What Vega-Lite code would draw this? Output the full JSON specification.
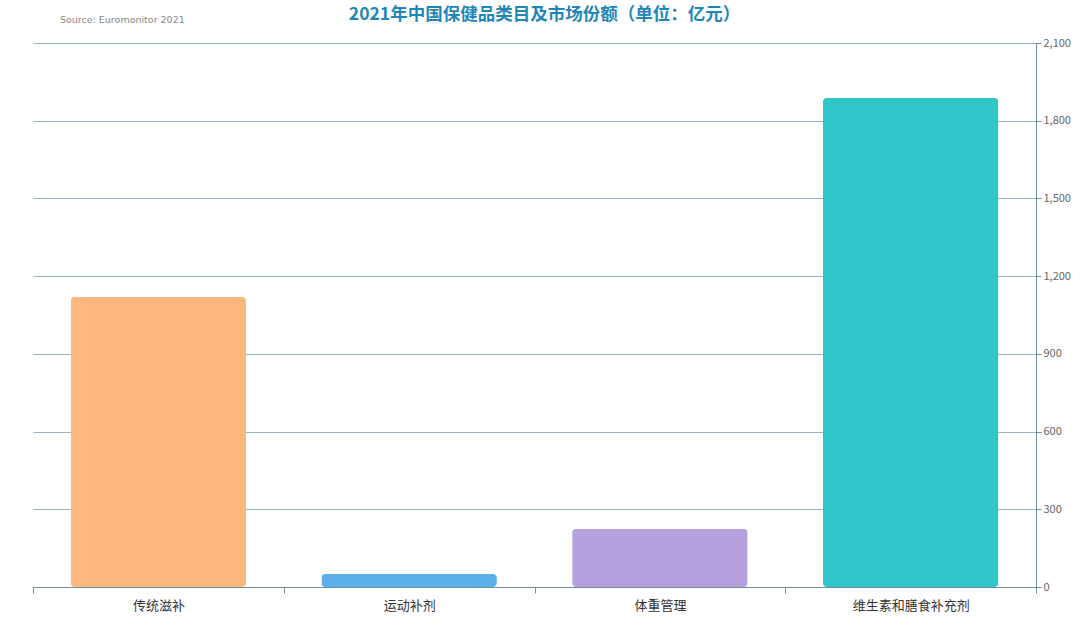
{
  "$schema": "https://vega.github.io/schema/vega-lite/v6.json",
  "autosize": "none",
  "width": 1003,
  "height": 544,
  "padding": {"left": 33, "top": 43, "right": 44, "bottom": 51},
  "background": "white",
  "title": {
    "text": "2021年中国保健品类目及市场份额（单位：亿元）",
    "color": "#1f86b8",
    "fontSize": 17.5,
    "fontWeight": "bold",
    "font": "Noto Sans CJK SC",
    "anchor": "middle",
    "frame": "group",
    "offset": 0,
    "dy": 8,
    "dx": 10
  },
  "config": {
    "view": {"stroke": null},
    "font": "Noto Sans CJK SC"
  },
  "layer": [
    {
      "data": {
        "values": [
          {"category": "传统滋补", "value": 1120},
          {"category": "运动补剂", "value": 50},
          {"category": "体重管理", "value": 225},
          {"category": "维生素和膳食补充剂", "value": 1888}
        ]
      },
      "mark": {"type": "bar", "cornerRadius": 4, "width": {"band": 0.7}},
      "encoding": {
        "x": {
          "field": "category",
          "type": "nominal",
          "sort": null,
          "scale": {"paddingInner": 0, "paddingOuter": 0},
          "axis": {
            "title": null,
            "labelAngle": 0,
            "labelFontSize": 13,
            "labelColor": "#333333",
            "labelPadding": 6,
            "domainColor": "#6e8f99",
            "tickColor": "#6e8f99",
            "tickBand": "extent",
            "tickSize": 6
          }
        },
        "y": {
          "field": "value",
          "type": "quantitative",
          "scale": {"domain": [0, 2100], "nice": false},
          "axis": {
            "orient": "right",
            "title": null,
            "values": [0, 300, 600, 900, 1200, 1500, 1800, 2100],
            "format": ",d",
            "labelColor": "#666666",
            "labelFontSize": 11,
            "domain": true,
            "domainColor": "#6e8f99",
            "tickColor": "#6e8f99",
            "tickSize": 5,
            "gridColor": "#7fa3ad",
            "gridOpacity": 0.8,
            "grid": true
          }
        },
        "color": {
          "field": "category",
          "type": "nominal",
          "sort": null,
          "scale": {
            "domain": ["传统滋补", "运动补剂", "体重管理", "维生素和膳食补充剂"],
            "range": ["#fdb87d", "#5aafe8", "#b4a1dd", "#2ec6c8"]
          },
          "legend": null
        }
      }
    },
    {
      "data": {"values": [{"category": "传统滋补", "value": 2100, "label": "Source: Euromonitor 2021"}]},
      "mark": {"type": "text", "align": "left", "baseline": "middle", "dx": 27, "dy": -23, "fontSize": 9.5, "color": "#888888", "font": "DejaVu Sans"},
      "encoding": {
        "x": {"field": "category", "type": "nominal", "sort": null, "bandPosition": 0},
        "y": {"field": "value", "type": "quantitative"},
        "text": {"field": "label"}
      }
    }
  ]
}
